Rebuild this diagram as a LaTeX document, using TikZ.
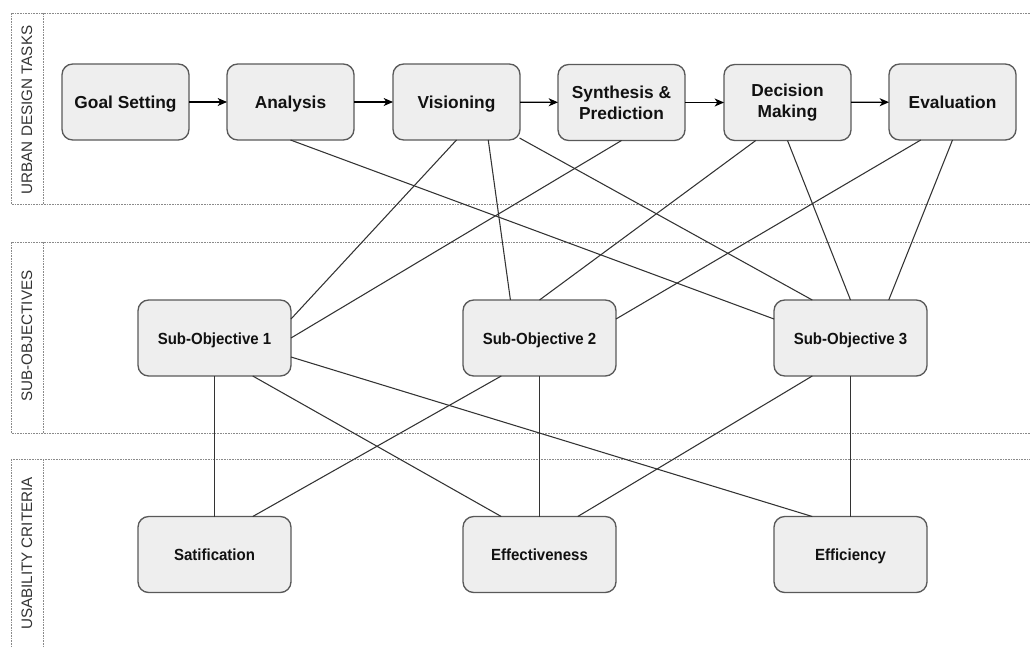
\documentclass[tikz,border=0pt]{standalone}
\usepackage{fontspec}
\setmainfont{Liberation Sans}
\newfontfamily\narrowsans{Liberation Sans}[FakeStretch=0.93]
\usetikzlibrary{arrows.meta,calc}

\definecolor{boxfill}{HTML}{EEEEEE}
\definecolor{boxline}{HTML}{595959}
\definecolor{linkcol}{HTML}{333333}
\definecolor{lanecol}{HTML}{8A8A8A}
\definecolor{textcol}{HTML}{111111}

\tikzset{
  taskbox/.style={draw=boxline, fill=boxfill, line width=1pt, rounded corners=8pt,
    minimum width=95.25pt, minimum height=57pt, outer sep=0pt, align=center,
    text=textcol, font=\fontsize{13}{15.5}\selectfont\bfseries},
  oneline/.style={text height=11pt, text depth=1.3pt},
  critbox/.style={draw=boxline, fill=boxfill, line width=1pt, rounded corners=8pt,
    minimum width=114.75pt, minimum height=57pt, outer sep=0pt, align=center,
    text=textcol, text height=10pt, text depth=0.8pt,
    font=\narrowsans\fontsize{12.1}{14}\selectfont\bfseries},
  link/.style={draw=linkcol, line width=0.8pt},
  flow/.style={draw=black, line width=0.9pt, -{Stealth[length=7pt,width=6pt,inset=2pt]}},
  lane/.style={draw=lanecol, line width=0.75pt, dash pattern=on 1.2pt off 0.8pt},
  lanelabel/.style={rotate=90, text=linkcol, font=\fontsize{11.4}{13}\selectfont}
}

\begin{document}
\begin{tikzpicture}[x=0.75pt,y=-0.75pt]
\useasboundingbox (0,0) rectangle (1030,646);

% swimlanes (open towards the right and bottom)
\begin{scope}
  \clip (0,0) rectangle (1030,646);
  \draw[lane] (11,13) rectangle (1060,204);
  \draw[lane] (43,13) -- (43,204);
  \draw[lane] (11,242) rectangle (1060,433);
  \draw[lane] (43,242) -- (43,433);
  \draw[lane] (11,459) rectangle (1060,648);
  \draw[lane] (43,459) -- (43,648);
\end{scope}

\node[lanelabel] (l1) at (27,110) {URBAN DESIGN TASKS};
\node[lanelabel] (l2) at (27,336) {SUB-OBJECTIVES};
\node[lanelabel] (l3) at (27,553.5) {USABILITY CRITERIA};

% urban design tasks
\node[taskbox,oneline] (gs)  at (125.5,102) {Goal Setting};
\node[taskbox,oneline] (ana) at (290.5,102) {Analysis};
\node[taskbox,oneline] (vis) at (456.5,102) {Visioning};
\node[taskbox] (syn) at (621.5,102.5) {Synthesis \&\\Prediction};
\node[taskbox] (dec) at (787.5,102.5) {Decision\\Making};
\node[taskbox,oneline] (eva) at (952.5,102) {Evaluation};

% sub-objectives
\node[critbox] (so1) at (214.5,338) {Sub-Objective 1};
\node[critbox] (so2) at (539.5,338) {Sub-Objective 2};
\node[critbox] (so3) at (850.5,338) {Sub-Objective 3};

% usability criteria
\node[critbox] (sat)  at (214.5,554.5) {Satification};
\node[critbox] (effe) at (539.5,554.5) {Effectiveness};
\node[critbox] (effi) at (850.5,554.5) {Efficiency};

% task sequence
\draw[flow] (gs)  -- (ana);
\draw[flow] (ana) -- (vis);
\draw[flow] (vis) -- (syn);
\draw[flow] (syn) -- (dec);
\draw[flow] (dec) -- (eva);

% tasks to sub-objectives
\draw[link] (ana.south) -- ($(so3.north west)!0.25!(so3.south west)$);
\draw[link] (vis.south) -- ($(so1.north east)!0.25!(so1.south east)$);
\draw[link] ($(vis.south west)!0.75!(vis.south east)$) -- ($(so2.north west)!0.31!(so2.north east)$);
\draw[link] ($(vis.south east)+(-0.5,-2)$) -- ($(so3.north west)!0.25!(so3.north east)$);
\draw[link] (syn.south) -- (so1.east);
\draw[link] ($(dec.south west)!0.25!(dec.south east)$) -- (so2.north);
\draw[link] (dec.south) -- (so3.north);
\draw[link] ($(eva.south west)!0.25!(eva.south east)$) -- ($(so2.north east)!0.25!(so2.south east)$);
\draw[link] (eva.south) -- ($(so3.north west)!0.75!(so3.north east)$);

% sub-objectives to usability criteria
\draw[link] (so1.south) -- (sat.north);
\draw[link] ($(so1.south west)!0.75!(so1.south east)$) -- ($(effe.north west)!0.25!(effe.north east)$);
\draw[link] ($(so1.north east)!0.75!(so1.south east)$) -- ($(effi.north west)!0.25!(effi.north east)$);
\draw[link] ($(so2.south west)!0.25!(so2.south east)$) -- ($(sat.north west)!0.75!(sat.north east)$);
\draw[link] (so2.south) -- (effe.north);
\draw[link] ($(so3.south west)!0.25!(so3.south east)$) -- ($(effe.north west)!0.75!(effe.north east)$);
\draw[link] (so3.south) -- (effi.north);
\end{tikzpicture}
\end{document}
